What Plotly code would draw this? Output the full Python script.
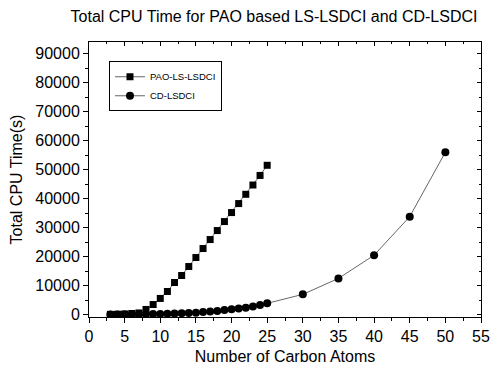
import plotly.graph_objects as go

pao_x = list(range(3, 26))
pao_y = [100, 150, 250, 400, 600, 1800, 3500, 5600, 8000, 11100, 13500, 16600,
         19700, 22800, 25900, 29000, 32100, 35200, 38300, 41500, 44700, 48000, 51500]

cd_x = list(range(3, 26)) + [30, 35, 40, 45, 50]
cd_y = [20, 40, 60, 80, 110, 150, 200, 250, 300, 400, 500, 600, 700, 900,
        1100, 1300, 1600, 1900, 2100, 2400, 2800, 3300, 3900,
        7000, 12500, 20500, 33800, 56000]

x_ticks = list(range(0, 56, 5))
y_ticks = list(range(0, 90001, 10000))

FONT = "Liberation Sans, Arial, sans-serif"
LINE = "#666666"

fig = go.Figure()
fig.add_trace(go.Scatter(x=pao_x, y=pao_y, mode="lines+markers", name="PAO-LS-LSDCI",
                         line=dict(color=LINE, width=1),
                         marker=dict(symbol="square", size=7, color="black")))
fig.add_trace(go.Scatter(x=cd_x, y=cd_y, mode="lines+markers", name="CD-LSDCI",
                         line=dict(color=LINE, width=1),
                         marker=dict(symbol="circle", size=8, color="black")))

XR = [0, 55]
YR = [-800, 94000]

axis_common = dict(showgrid=False, zeroline=False, linecolor="black", linewidth=1,
                   showline=True, automargin=False, tickformat="d",
                   tickcolor="black", tickfont=dict(family=FONT, size=16, color="black"))

fig.update_layout(
    width=493, height=366,
    margin=dict(l=89, r=12, t=42, b=49, autoexpand=False),
    paper_bgcolor="white", plot_bgcolor="white",
    title=dict(text="Total CPU Time for PAO based LS-LSDCI and CD-LSDCI",
               x=0.472, xref="paper", xanchor="center", y=0.956, yref="container",
               yanchor="middle",
               font=dict(family=FONT, size=16, color="black")),
    xaxis=dict(range=XR, tickvals=x_ticks, ticks="outside", ticklen=5,
               minor=dict(dtick=2.5, ticks="outside", ticklen=3, tickcolor="black"),
               title=dict(text="Number of Carbon Atoms", standoff=6,
                          font=dict(family=FONT, size=16, color="black")),
               **axis_common),
    yaxis=dict(range=YR, tickvals=y_ticks, ticks="outside", ticklen=5,
               minor=dict(dtick=5000, ticks="outside", ticklen=3, tickcolor="black"),
               title=dict(text="Total CPU Time(s)", standoff=8,
                          font=dict(family=FONT, size=16, color="black")),
               **axis_common),
    xaxis2=dict(range=XR, overlaying="x", side="top", tickvals=x_ticks, ticks="inside",
                ticklen=4, showticklabels=False, showgrid=False, zeroline=False,
                showline=True, linecolor="black", linewidth=1, tickcolor="black",
                automargin=False,
                minor=dict(dtick=2.5, ticks="inside", ticklen=2, tickcolor="black")),
    yaxis2=dict(range=YR, overlaying="y", side="right", tickvals=y_ticks, ticks="inside",
                ticklen=4, showticklabels=False, showgrid=False, zeroline=False,
                showline=True, linecolor="black", linewidth=1, tickcolor="black",
                automargin=False,
                minor=dict(dtick=5000, ticks="inside", ticklen=2, tickcolor="black")),
    legend=dict(x=0.051, y=0.93, xanchor="left", yanchor="top",
                bordercolor="black", borderwidth=1, bgcolor="white",
                font=dict(family=FONT, size=9.5, color="black"),
                tracegroupgap=0, itemwidth=30),
    showlegend=True,
)
fig.add_trace(go.Scatter(x=[None], y=[None], xaxis="x2", yaxis="y2", showlegend=False,
                         hoverinfo="skip"))

fig.write_html("out.html")
